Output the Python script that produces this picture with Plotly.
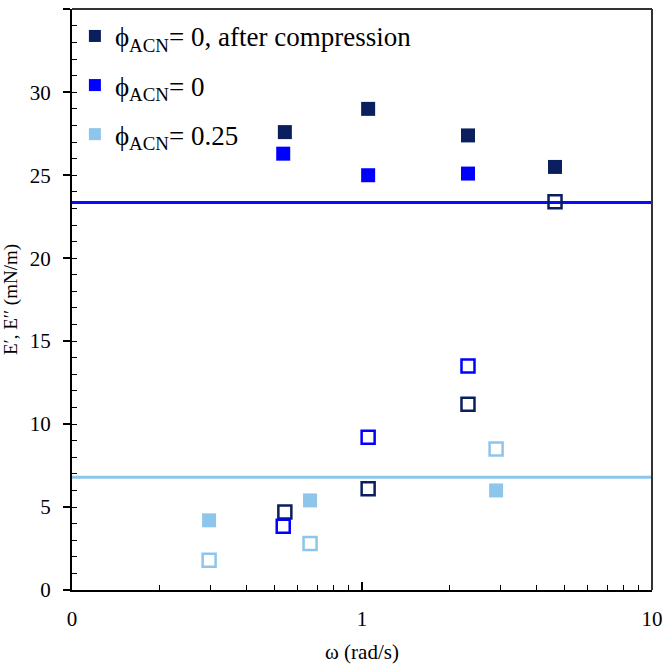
import plotly.graph_objects as go

# ---- data ----
omega_dark = [0.542, 1.05, 2.32, 4.63]
Ep_dark = [27.6, 29.0, 27.4, 25.5]
Epp_dark = [4.7, 6.1, 11.2, 23.4]

omega_blue = [0.535, 1.05, 2.32]
Ep_blue = [26.3, 25.0, 25.1]
Epp_blue = [3.85, 9.2, 13.5]

omega_light = [0.297, 0.662, 2.90]
Ep_light = [4.2, 5.4, 6.0]
Epp_light = [1.8, 2.8, 8.5]

hline_blue = 23.35
hline_light = 6.8

names = ["ϕ<sub>ACN</sub>= 0, after compression", "ϕ<sub>ACN</sub>= 0", "ϕ<sub>ACN</sub>= 0.25"]
x_tickvals = [0.1, 1, 10]
x_ticktext = ["0", "1", "10"]
x_minor = [0.2, 0.3, 0.4, 0.5, 0.6, 0.7, 0.8, 0.9, 2, 3, 4, 5, 6, 7, 8, 9]
y_tickvals = [0, 5, 10, 15, 20, 25, 30, 35]

c_dark = "#0b1f5e"
c_blue = "#0000ff"
c_light = "#8ec5ea"
c_blue_line = "#0a0aff"

FONT = "Liberation Serif"

fig = go.Figure()

series = [
    (omega_dark, Ep_dark, Epp_dark, c_dark, names[0], "g1"),
    (omega_blue, Ep_blue, Epp_blue, c_blue, names[1], "g2"),
    (omega_light, Ep_light, Epp_light, c_light, names[2], "g3"),
]
for om, ep, epp, col, nm, grp in series:
    fig.add_trace(go.Scatter(x=om, y=ep, mode="markers", name=nm, legendgroup=grp,
                             marker=dict(symbol="square", size=14, color=col,
                                         line=dict(width=0))))
for om, ep, epp, col, nm, grp in series:
    fig.add_trace(go.Scatter(x=om, y=epp, mode="markers", showlegend=False,
                             marker=dict(symbol="square-open", size=13, color=col,
                                         line=dict(width=2.5, color=col))))

fig.add_shape(type="line", xref="paper", x0=0, x1=1, yref="y", y0=hline_blue, y1=hline_blue,
              line=dict(color=c_blue_line, width=3), layer="below")
fig.add_shape(type="line", xref="paper", x0=0, x1=1, yref="y", y0=hline_light, y1=hline_light,
              line=dict(color=c_light, width=3), layer="below")

fig.update_layout(
    width=664, height=664,
    margin=dict(l=72, r=12, t=9, b=74, autoexpand=False),
    paper_bgcolor="white", plot_bgcolor="white",
    font=dict(family=FONT, size=21, color="black"),
    showlegend=True,
    legend=dict(x=0.005, y=0.995, xanchor="left", yanchor="top",
                bgcolor="rgba(0,0,0,0)", font=dict(family=FONT, size=27),
                itemsizing="constant", tracegroupgap=11, itemwidth=30),
    xaxis=dict(type="log", range=[-1, 1], tickmode="array",
               tickvals=x_tickvals, ticktext=x_ticktext, automargin=False,
               ticks="inside", ticklen=8, tickwidth=1.5, tickcolor="black",
               ticklabelstandoff=9,
               showline=True, linecolor="black", linewidth=2, mirror=False,
               showgrid=False, zeroline=False,
               minor=dict(tickmode="array", tickvals=x_minor, ticks="inside",
                          ticklen=5, tickwidth=1.2, tickcolor="black", showgrid=False),
               title=dict(text="ω (rad/s)", font=dict(family=FONT, size=21), standoff=14)),
    yaxis=dict(range=[0, 35.02], tickmode="array", tickvals=y_tickvals, automargin=False,
               ticks="outside", ticklen=7, tickwidth=1.5, tickcolor="black",
               ticklabelstandoff=8,
               showline=True, linecolor="black", linewidth=2,
               showgrid=False, zeroline=False,
               minor=dict(dtick=1, ticks="inside", ticklen=5, tickwidth=1.2,
                          tickcolor="black", showgrid=False),
               title=dict(text="E′, E′′ (mN/m)", font=dict(family=FONT, size=19), standoff=14)),
)

# top & right frame lines
fig.add_shape(type="line", xref="paper", yref="paper", x0=0, x1=1, y0=1, y1=1,
              line=dict(color="#333333", width=2))
fig.add_shape(type="line", xref="paper", yref="paper", x0=1, x1=1, y0=0, y1=1,
              line=dict(color="#333333", width=2))

fig.write_html("out.html", config={"displayModeBar": False},
               post_script="document.body.style.margin='0';")
